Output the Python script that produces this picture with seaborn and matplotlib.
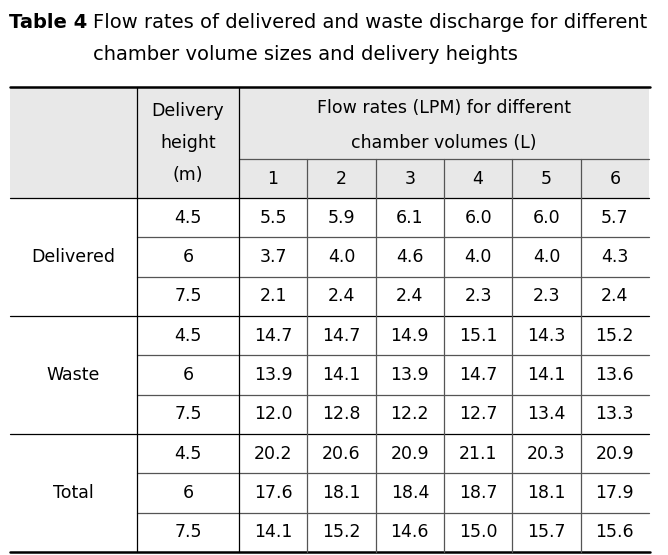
import numpy as np
import pandas as pd
import matplotlib
matplotlib.use("Agg")
import matplotlib.pyplot as plt
from matplotlib.colors import ListedColormap
import seaborn as sns

#------ Data ---------
groups = ["Delivered", "Waste", "Total"]
heights = ["4.5", "6", "7.5"]
volumes = ["1", "2", "3", "4", "5", "6"]

delivered = [[5.5, 5.9, 6.1, 6.0, 6.0, 5.7],
             [3.7, 4.0, 4.6, 4.0, 4.0, 4.3],
             [2.1, 2.4, 2.4, 2.3, 2.3, 2.4]]
waste = [[14.7, 14.7, 14.9, 15.1, 14.3, 15.2],
         [13.9, 14.1, 13.9, 14.7, 14.1, 13.6],
         [12.0, 12.8, 12.2, 12.7, 13.4, 13.3]]
total = [[20.2, 20.6, 20.9, 21.1, 20.3, 20.9],
         [17.6, 18.1, 18.4, 18.7, 18.1, 17.9],
         [14.1, 15.2, 14.6, 15.0, 15.7, 15.6]]

# table body as one frame (9 rows x 6 volumes)
body = pd.DataFrame(np.vstack([delivered, waste, total]), columns=volumes)

#------ Layout (pixels) ---------
W, H = 668, 555
x_edges = [10, 137, 239, 307, 376, 444, 512, 581, 649]
y_top, y_sub, y_head, y_bot = 87, 159, 198, 552
row_h = (y_bot - y_head) / len(body)

sns.set_theme(style="white")
plt.rcParams['font.family'] = ['DejaVu Sans']
plt.rcParams['text.color'] = 'black'
FS = 12.5
TFS = 14

fig = plt.figure(figsize=(W / 100, H / 100), dpi=100)

# numbers drawn with seaborn heatmap
ax_body = fig.add_axes([x_edges[2] / W, 1 - y_bot / H,
                        (x_edges[-1] - x_edges[2]) / W, (y_bot - y_head) / H])
sns.heatmap(body, ax=ax_body, cmap=ListedColormap(["white"]), cbar=False,
            annot=True, fmt=".1f", annot_kws={"fontsize": FS, "color": "black"},
            xticklabels=False, yticklabels=False, linewidths=0)
ax_body.set_xlabel("")
ax_body.set_ylabel("")

# overlay for header, left columns, rules, title
ax = fig.add_axes([0, 0, 1, 1], facecolor="none")
ax.set_xlim(0, W)
ax.set_ylim(H, 0)
ax.axis("off")

ax.add_patch(plt.Rectangle((x_edges[0], y_top), x_edges[-1] - x_edges[0], y_head - y_top,
                           facecolor="#e8e8e8", edgecolor="none", zorder=0))

# title
ax.text(9, 22, "Table 4", fontsize=TFS, fontweight="bold", ha="left", va="center")
ax.text(93, 22, "Flow rates of delivered and waste discharge for different",
        fontsize=TFS, ha="left", va="center")
ax.text(93, 54, "chamber volume sizes and delivery heights",
        fontsize=TFS, ha="left", va="center")

# header text
cx2 = (x_edges[1] + x_edges[2]) / 2
for txt, yy in zip(["Delivery", "height", "(m)"], [111, 143, 175]):
    ax.text(cx2, yy, txt, fontsize=FS, ha="center", va="center")
cx_flow = (x_edges[2] + x_edges[-1]) / 2
ax.text(cx_flow, 108, "Flow rates (LPM) for different", fontsize=FS, ha="center", va="center")
ax.text(cx_flow, 143, "chamber volumes (L)", fontsize=FS, ha="center", va="center")
for i, v in enumerate(volumes):
    ax.text((x_edges[2 + i] + x_edges[3 + i]) / 2, (y_sub + y_head) / 2 + 1, v,
            fontsize=FS, ha="center", va="center")

# group and height labels
for g, name in enumerate(groups):
    y0 = y_head + g * 3 * row_h
    ax.text((x_edges[0] + x_edges[1]) / 2, y0 + 1.5 * row_h, name,
            fontsize=FS, ha="center", va="center")
    for r, h in enumerate(heights):
        ax.text(cx2, y0 + (r + 0.5) * row_h, h, fontsize=FS, ha="center", va="center")

# rules
inner = dict(color="#555555", lw=0.9)
strong = dict(color="black", lw=0.9)
ax.plot([x_edges[0], x_edges[-1] + 1], [y_top, y_top], color="black", lw=1.8)
ax.plot([x_edges[0], x_edges[-1] + 1], [y_bot, y_bot], color="black", lw=1.8)
ax.plot([x_edges[2], x_edges[-1]], [y_sub, y_sub], **inner)
ax.plot([x_edges[0], x_edges[-1]], [y_head, y_head], **strong)
for k in range(1, len(body)):
    yy = y_head + k * row_h
    if k % 3 == 0:
        ax.plot([x_edges[0], x_edges[-1]], [yy, yy], **strong)
    else:
        ax.plot([x_edges[1], x_edges[-1]], [yy, yy], **inner)
for xx in x_edges[1:3]:
    ax.plot([xx, xx], [y_top, y_bot], **strong)
for xx in x_edges[3:-1]:
    ax.plot([xx, xx], [y_sub, y_bot], **inner)

fig.savefig("out.png", dpi=100)
